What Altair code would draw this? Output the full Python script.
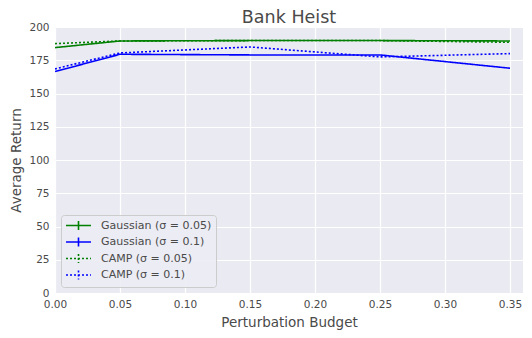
import altair as alt
import pandas as pd

budgets = [0.00, 0.05, 0.15, 0.25, 0.35]
gauss_005 = [184.5, 189.5, 189.8, 189.8, 189.5]
gauss_01 = [166.5, 179.5, 179.0, 179.0, 169.0]
camp_005 = [187.5, 189.5, 189.8, 189.8, 188.5]
camp_01 = [168.5, 180.5, 185.0, 177.5, 180.0]

series_names = ["Gaussian (σ = 0.05)", "Gaussian (σ = 0.1)", "CAMP (σ = 0.05)", "CAMP (σ = 0.1)"]
series_vals = [gauss_005, gauss_01, camp_005, camp_01]
colors = ["#008000", "#0000FF", "#008000", "#0000FF"]
dashes = [[1, 0], [1, 0], [2, 2], [2, 2]]

rows = []
for name, vals in zip(series_names, series_vals):
    for b, v in zip(budgets, vals):
        rows.append({"budget": b, "ret": v, "series": name})
df = pd.DataFrame(rows)

x_ticks = [0.0, 0.05, 0.10, 0.15, 0.20, 0.25, 0.30, 0.35]
y_ticks = [0, 25, 50, 75, 100, 125, 150, 175, 200]

font = "DejaVu Sans"
txt = "#4a4a4a"

chart = alt.Chart(df).mark_line(strokeWidth=1.6, clip=True).encode(
    x=alt.X("budget:Q", title="Perturbation Budget",
            scale=alt.Scale(domain=[0, 0.36], nice=False, zero=False),
            axis=alt.Axis(values=x_ticks, format=".2f", labelFlush=False)),
    y=alt.Y("ret:Q", title="Average Return",
            scale=alt.Scale(domain=[0, 200], nice=False),
            axis=alt.Axis(values=y_ticks)),
    color=alt.Color("series:N", sort=series_names,
                    scale=alt.Scale(domain=series_names, range=colors),
                    legend=alt.Legend(title=None, orient="bottom-left", offset=6,
                                      symbolType="M-2.27,0L2.27,0M0,-0.8L0,0.8",
                                      symbolSize=121, symbolStrokeWidth=1.6,
                                      symbolOffset=7,
                                      labelFontSize=11, labelColor=txt, labelFont=font,
                                      rowPadding=-0.5, padding=4, labelOffset=16,
                                      fillColor="rgba(236,236,244,0.9)", strokeColor="#cccccc",
                                      cornerRadius=3)),
    strokeDash=alt.StrokeDash("series:N", sort=series_names,
                              scale=alt.Scale(domain=series_names, range=dashes),
                              legend=alt.Legend(title=None)),
    detail="series:N",
).properties(
    width=468, height=266,
    autosize=alt.AutoSizeParams(type="none"),
    padding={"left": 47, "top": 19, "right": 1, "bottom": 37},
    title=alt.TitleParams("Bank Heist", fontSize=17.5, font=font, color=txt,
                          fontWeight="normal", offset=5, dy=9.5, frame="group"),
).configure_view(
    fill="#EAEAF2", stroke=None,
).configure_axis(
    grid=True, gridColor="white", gridWidth=1.2, domain=False, ticks=False,
    labelFont=font, labelFontSize=10.5, labelColor=txt, labelPadding=6,
    titleFont=font, titleFontSize=13.5, titleColor=txt, titleFontWeight="normal",
).configure_axisX(titlePadding=6).configure_axisY(titlePadding=5)

chart.save("out.html", embed_options={"renderer": "svg", "actions": False})
